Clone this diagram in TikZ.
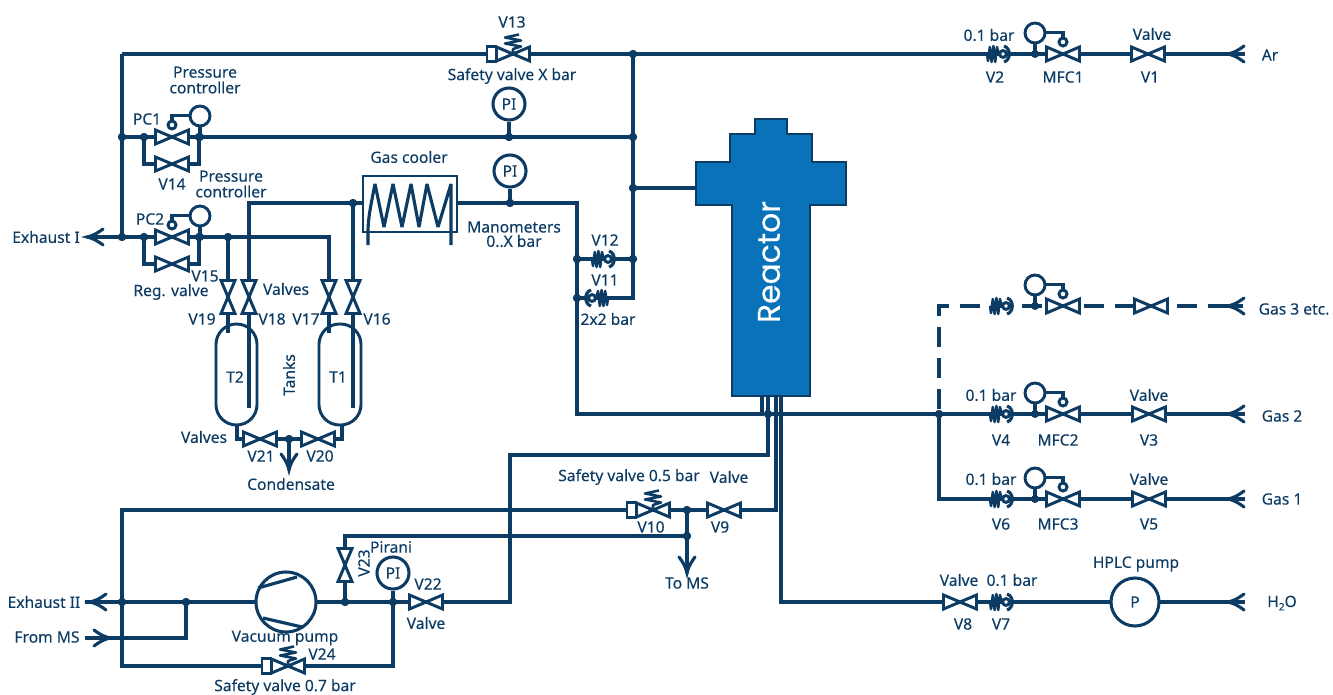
\documentclass[tikz,border=0pt]{standalone}
\usepackage{fontspec}
\setmainfont{Noto Sans}[FakeBold=0.12]
\newfontfamily\reacfont{Poppins}[FakeBold=0.25]
\definecolor{pipec}{HTML}{0C3B64}
\definecolor{reacc}{HTML}{0A72B9}
\tikzset{
 pipe/.style={draw=pipec,line width=2.35pt,line join=miter},
 dashpipe/.style={pipe,dash pattern=on 15pt off 8.25pt},
 sym/.style={draw=pipec,line width=2.2pt,fill=white,line join=miter},
 thinsym/.style={draw=pipec,line width=1.9pt,line join=round},
 lbl/.style={text=pipec,font=\fontsize{11.7}{13}\selectfont,inner sep=0pt},
 instr/.style={circle,draw=pipec,line width=2.3pt,fill=white,minimum size=24pt,inner sep=0pt,text=pipec,font=\fontsize{11.7}{13}\selectfont},
 pics/valve/.style={code={\path[sym] (-16.5,-7)--(16.5,7)--(16.5,-7)--(-16.5,7)--cycle;}},
 pics/arrowleft/.style={code={\draw[pipe,line cap=round] (16,-8) .. controls (8,-2) and (4,-1) .. (0,0) .. controls (4,1) and (8,2) .. (16,8);}},
 pics/check/.style={code={
   \draw[thinsym] (-8,0)--(-7,7)--(-5.2,-7)--(-3.4,8)--(-1.6,-8)--(0.2,8)--(2,-7)--(3.5,0);
   \draw[sym] (8,0) circle (3.4);
   \draw[pipe,fill=none] (9,-8) .. controls (16,-6) and (16,6) .. (9,8);}},
 pics/safety/.style={code={
   \path[sym] (-26,-7.5) rectangle (-17,7.5);
   \path[sym] (-16.5,-7)--(16.5,7)--(16.5,-7)--(-16.5,7)--cycle;
   \draw[thinsym] (0,-1)--(0,-5)--(8,-7.5)--(-8,-10.5)--(8,-13.5)--(-8,-16.5)--(6,-19.5);}},
 pics/ctrl/.style={code={
   \draw[pipe] (0,-12)--(0,-21.5)--(-18,-21.5);
   \draw[sym] (0,-12) circle (4);
   \draw[pipe] (-28,-12)--(-28,0);
   \draw[sym] (-28,-21) circle (10);
   \fill[pipec] (-28,0) circle (4);}}
}
\begin{document}
\begin{tikzpicture}[x=0.75pt,y=-0.75pt]
\useasboundingbox (0,0) rectangle (1333,695);
% ---- named points
\foreach \n/\x/\y in {cTL/122/54,jTop/633/54,arAr/1228/54,endAr/1245/54,ja/122/137,jb/122/237,
 jPCa/144/137,jPCb/199/137,jPI13/509/137,jMid/633/137,jReac/633/188,rLeft/696/188,j12R/633/259,c11R/633/298,
 j12L/577/259,j11L/577/298,jPCc/144/237,jPCd/199/237,jPCe/228/237,c17/329/237,exh1/87/237,
 V13/513/54,V2/995/54,MFC1/1063/54,V1/1148/54,PC1/172/137,V14/172/164,PC2/172/237,V15/172/264,
 V19/228/297,V18/249/297,V17/329/297,V16/353/297,c18/249/203,j16/353/203,jPI2/510/203,cDn/577/203,
 V12/600/259,V11/600/298,cL/577/414,rA/762/396,cA/762/414,
 rB/768/396,jB/768/414,cB/768/455,cB2/510/455,cB3/510/602,V22/426/602,jPir/393/602,j23/345/602,
 rC/776/396,cC/776/510,V9/724/510,jMS/687/510,V10/653/510,cC2/122/510,jEx/122/602,cC3/122/666,V24/288/666,cC4/393/666,
 jMSb/687/536,arMS/687/573,c23/345/536,V23/345/565,jFM/186/602,exh2/90/602,end2/85/602,cFM/186/638,from/85/638,arFM/110/638,
 rD/781/396,cD/781/602,V8/960/602,V7/998/602,endH/1245/602,arH/1228/602,
 end2g/1245/414,ar2g/1228/414,V4/998/414,MFC2/1063/414,V3/1149/414,j939/939/414,c939/939/499,
 end1g/1245/499,ar1g/1228/499,V6/998/499,MFC3/1063/499,V5/1149/499,
 c3g/939/306,ar3g/1228/306,V3g/998/306,MFC3g/1063/306,V3gb/1151/306,
 b2t/237/425,b2c/237/439,V21/260/439,jCond/289/439,V20/318/439,b1c/342/439,b1t/342/425,arCond/289/470,
 t19/228/333,t18/249/408,t17/329/333,t16/353/408,
 inCool/363/203,outCool/457/203}
 {\coordinate (\n) at (\x,\y);}
% ---- reactor
\path[draw=pipec,line width=2pt,fill=reacc,line join=miter] (755,119)--(787,119)--(787,134)--(812,134)--(812,162)--(846,162)--(846,205)--(810,205)--(810,396)--(732,396)--(732,205)--(696,205)--(696,162)--(730,162)--(730,134)--(755,134)--cycle;
\node[text=white,rotate=90,font=\reacfont\fontsize{23.5}{25}\selectfont,inner sep=0pt] (reactor) at (769,262) {Reactor};
% ---- tanks
\path[sym,rounded corners=15.3pt] (216,324) rectangle (257,425);
\path[sym,rounded corners=15.3pt] (319,324) rectangle (361,425);
% ---- pipes
\draw[pipe] (cTL)--(endAr);
\draw[pipe] (cTL)--(ja)--(jb);
\draw[pipe] (ja)--(jMid);
\draw[pipe] (jTop)--(jMid)--(jReac)--(j12R)--(c11R)--(j11L);
\draw[pipe] (jReac)--(rLeft);
\draw[pipe] (j12L)--(j12R);
\draw[pipe] (jPCa) |- (V14) -| (jPCb);
\draw[pipe] (exh1)--(jb)--(c17)--(V17)--(t17);
\draw[pipe] (jPCc) |- (V15) -| (jPCd);
\draw[pipe] (jPCe)--(V19)--(t19);
\draw[pipe] (t18)--(V18)--(c18)--(inCool);
\draw[pipe] (j16)--(V16)--(t16);
\draw[pipe] (outCool)--(cDn)--(cL)--(cA)--(rA);
\draw[pipe] (rB)--(cB)--(cB2)--(cB3)--(jPir);
\draw[pipe] (jB)--(end2g);
\draw[pipe] (rC)--(cC)--(cC2)--(cC3)--(cC4)--(jPir);
\draw[pipe] (jMS)--(arMS);
\draw[pipe] (jMSb)--(c23)--(j23);
\draw[pipe] (end2)--(jPir);
\draw[pipe] (from)--(cFM)--(jFM);
\draw[pipe] (rD)--(cD)--(endH);
\draw[pipe] (j939)--(c939)--(end1g);
\draw[dashpipe] (ar3g)--(c3g)--(j939);
\draw[pipe] (ar3g)--(1243,306);
\draw[pipe] (b2t)--(b2c)--(b1c)--(b1t);
\draw[pipe] (jCond)--(arCond);
% ---- gas cooler
\path[sym,fill=white] (363,176) rectangle (457,232);
\draw[pipe,line join=bevel] (368,245)--(368,232) .. controls (368,216) and (372,200) .. (375,184)--(384,227)--(393,184)--(402,227)--(411,184)--(419,227)--(427,184)--(438,227)--(451,184)--(451,245);
% ---- instruments and pump
\node[instr] (PI13) at (509,104) {PI};
\node[instr] (PI2) at (510,171) {PI};
\node[instr] (PIr) at (393,573) {PI};
\node[instr,minimum size=36pt] (HPLC) at (1135,602) {P};
\node[instr,minimum size=45pt] (pump) at (286,602) {};
\draw[pipe] (PI13)--(jPI13);
\draw[pipe] (PI2)--(jPI2);
\draw[pipe] (PIr)--(jPir);
\draw[pipe] (258,588)--(297,577);
\draw[pipe] (263,618)--(302,627);
% ---- valves
\foreach \v in {V1,V14,V15,V22,V9,V8,V3,V5,V3gb,V21,V20} {\pic at (\v) {valve};}
\foreach \v in {V19,V18,V17,V16,V23} {\pic[rotate=90] at (\v) {valve};}
\foreach \v in {MFC1,MFC2,MFC3,MFC3g} {\pic at (\v) {valve}; \pic at (\v) {ctrl};}
\foreach \v in {PC1,PC2} {\pic at (\v) {valve}; \pic[xscale=-1] at (\v) {ctrl};}
\foreach \v in {V2,V12,V4,V6,V7,V3g} {\pic at (\v) {check};}
\pic[xscale=-1] at (V11) {check};
\foreach \v in {V13,V10,V24} {\pic at (\v) {safety};}
% ---- arrows
\foreach \v in {arAr,ar2g,ar1g,arH,ar3g,exh1,exh2} {\pic at (\v) {arrowleft};}
\pic[rotate=180] at (arFM) {arrowleft};
\pic[rotate=90] at (arMS) {arrowleft};
\pic[rotate=90] at (arCond) {arrowleft};
% ---- junctions
\foreach \j in {jTop,ja,jb,jPCa,jPCb,jPI13,jMid,jReac,j12R,j12L,j11L,jPCc,jPCd,jPCe,j16,jPI2,jB,jMS,jMSb,jEx,jFM,j23,jPir,j939,jCond}
 {\fill[pipec] (\j) circle (4.2);}
% ---- labels
\node[lbl] (tV13) at (512,22) {V13};
\node[lbl] (tSX) at (512,76) {Safety valve X bar};
\node[lbl,align=center] (tPC1a) at (205,80) {Pressure\\[-1.2pt]controller};
\node[lbl,align=center] (tPC2a) at (231,184) {Pressure\\[-1.2pt]controller};
\node[lbl] (tPC1) at (147,119) {PC1};
\node[lbl] (tPC2) at (150,219) {PC2};
\node[lbl] (tV14) at (172,184) {V14};
\node[lbl] (tV15) at (205,276) {V15};
\node[lbl] (tReg) at (171,292) {Reg. valve};
\node[lbl] (tVa) at (286,289) {Valves};
\node[lbl] (tV19) at (202,319) {V19};
\node[lbl] (tV18) at (272,319) {V18};
\node[lbl] (tV17) at (306,319) {V17};
\node[lbl] (tV16) at (377,319) {V16};
\node[lbl] (tT2) at (235,377) {T2};
\node[lbl] (tT1) at (338,377) {T1};
\node[lbl,rotate=90] (tTanks) at (289,375) {Tanks};
\node[lbl] (tVb) at (204,437) {Valves};
\node[lbl] (tV21) at (261,456) {V21};
\node[lbl] (tV20) at (320,456) {V20};
\node[lbl] (tCond) at (291,484) {Condensate};
\node[lbl] (tGC) at (409,157) {Gas cooler};
\node[lbl] (tMan) at (514,227) {Manometers};
\node[lbl] (tBar) at (514,241) {0..X bar};
\node[lbl] (tV12) at (605,240) {V12};
\node[lbl] (tV11) at (605,280) {V11};
\node[lbl] (t2x2) at (608,319) {2x2 bar};
\node[lbl] (tAr) at (1270,55) {Ar};
\node[lbl] (tb1) at (989,35) {0.1 bar};
\node[lbl] (tV2) at (995,77) {V2};
\node[lbl] (tM1) at (1063,77) {MFC1};
\node[lbl] (tVv1) at (1152,34) {Valve};
\node[lbl] (tV1) at (1150,77) {V1};
\node[lbl] (tG3) at (1294,309) {Gas 3 etc.};
\node[lbl] (tG2) at (1282,416) {Gas 2};
\node[lbl] (tG1) at (1282,499) {Gas 1};
\node[lbl] (tb2) at (991,395) {0.1 bar};
\node[lbl] (tV4) at (1001,440) {V4};
\node[lbl] (tM2) at (1058,440) {MFC2};
\node[lbl] (tVv3) at (1149,395) {Valve};
\node[lbl] (tV3) at (1149,440) {V3};
\node[lbl] (tb3) at (991,479) {0.1 bar};
\node[lbl] (tV6) at (1001,524) {V6};
\node[lbl] (tM3) at (1058,524) {MFC3};
\node[lbl] (tVv5) at (1149,479) {Valve};
\node[lbl] (tV5) at (1149,524) {V5};
\node[lbl] (tVv8) at (959,580) {Valve};
\node[lbl] (tb4) at (1012,580) {0.1 bar};
\node[lbl] (tV8) at (963,624) {V8};
\node[lbl] (tV7) at (1001,624) {V7};
\node[lbl] (tHP) at (1136,564) {HPLC pump};
\node[lbl] (tH2O) at (1282,603) {H\raisebox{-2.5pt}{\fontsize{7.5}{8}\selectfont 2}O};
\node[lbl] (tS5) at (629,477) {Safety valve 0.5 bar};
\node[lbl] (tVv9) at (729,477) {Valve};
\node[lbl] (tV10) at (651,527) {V10};
\node[lbl] (tV9) at (720,527) {V9};
\node[lbl] (tToMS) at (687,583) {To MS};
\node[lbl] (tPir) at (391,547) {Pirani};
\node[lbl] (tV22) at (428,584) {V22};
\node[lbl] (tVv22) at (426,623) {Valve};
\node[lbl,rotate=90] (tV23) at (364,563) {V23};
\node[lbl] (tEx1) at (46,237) {Exhaust I};
\node[lbl] (tEx2) at (44,602) {Exhaust II};
\node[lbl] (tFM) at (47,637) {From MS};
\node[lbl] (tVP) at (285,638) {Vacuum pump};
\node[lbl] (tV24) at (322,654) {V24};
\node[lbl] (tS7) at (285,687) {Safety valve 0.7 bar};
\end{tikzpicture}
\end{document}
